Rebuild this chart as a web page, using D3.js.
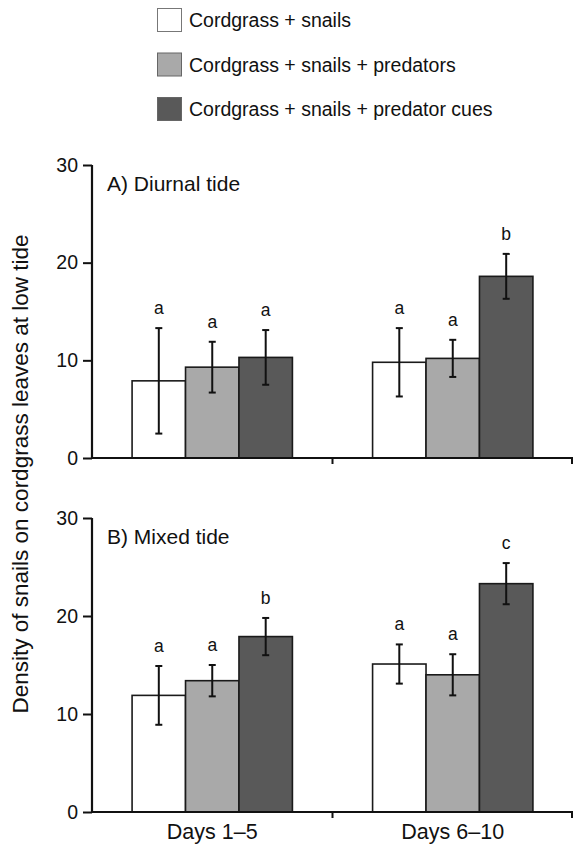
<!DOCTYPE html>
<html>
<head>
<meta charset="utf-8">
<script src="https://cdn.jsdelivr.net/npm/d3@7"></script>
<style>
  body { margin: 0; background: #fff; }
  svg text { font-family: "Liberation Sans", Arial, Helvetica, sans-serif; fill: #111; }
</style>
</head>
<body>
<svg id="svg"></svg>
<script>
// data
var groups = ["Days 1\u20135", "Days 6\u201310"];
var treatments = ["Cordgrass + snails", "Cordgrass + snails + predators", "Cordgrass + snails + predator cues"];
var yTicks = [0, 10, 20, 30];

var diurnalMeans   = [[7.9, 9.3, 10.3], [9.8, 10.2, 18.6]];
var diurnalErr     = [[5.4, 2.6, 2.8], [3.5, 1.9, 2.3]];
var diurnalLetters = [["a", "a", "a"], ["a", "a", "b"]];

var mixedMeans   = [[11.9, 13.4, 17.9], [15.1, 14.0, 23.3]];
var mixedErr     = [[3.0, 1.6, 1.9], [2.0, 2.1, 2.1]];
var mixedLetters = [["a", "a", "b"], ["a", "a", "c"]];

var panels = [
    {title: "A) Diurnal tide", means: diurnalMeans, err: diurnalErr, letters: diurnalLetters, top: 165, bottom: 458},
    {title: "B) Mixed tide",   means: mixedMeans,   err: mixedErr,   letters: mixedLetters,   top: 518, bottom: 812}
];

var width = 573, height = 849;
var svg = d3.select("#svg").attr("width", width).attr("height", height);

var fillScale = d3.scaleOrdinal().domain(treatments).range(["#ffffff", "#a9a9a9", "#595959"]);

var x0 = d3.scaleBand().domain(groups).range([92, 573]).paddingInner(0).paddingOuter(0);
var x1 = d3.scaleBand().domain(treatments).range([0, x0.bandwidth()]).paddingInner(0).paddingOuter(0.75);

//////////////////////////////////////////////////////////////////////////////
// legend
var legend = svg.append("g");
treatments.forEach(function(t, i) {
    var ly = 8 + i * 44.5;
    legend.append("rect")
        .attr("x", 157.5).attr("y", ly + 0.5)
        .attr("width", 24).attr("height", 23)
        .attr("fill", fillScale(t))
        .attr("stroke", i === 0 ? "#777" : "#666")
        .attr("stroke-width", 1);
    legend.append("text")
        .attr("x", 189).attr("y", ly + 19)
        .attr("font-size", 19.5)
        .text(t);
});

//////////////////////////////////////////////////////////////////////////////
function drawPanel(p)
{
    var y = d3.scaleLinear().domain([0, 30]).range([p.bottom, p.top]);
    var g = svg.append("g");

    // bars
    for (var gi = 0; gi < groups.length; ++gi) {
        for (var ti = 0; ti < treatments.length; ++ti) {
            var bx = x0(groups[gi]) + x1(treatments[ti]);
            var v = p.means[gi][ti];
            g.append("rect")
                .attr("x", bx).attr("y", y(v))
                .attr("width", x1.bandwidth()).attr("height", y(0) - y(v))
                .attr("fill", fillScale(treatments[ti]))
                .attr("stroke", "#1a1a1a")
                .attr("stroke-width", 1.6);
        }
    }

    // error bars and letters
    for (gi = 0; gi < groups.length; ++gi) {
        for (ti = 0; ti < treatments.length; ++ti) {
            var cx = x0(groups[gi]) + x1(treatments[ti]) + x1.bandwidth() / 2;
            var v = p.means[gi][ti], e = p.err[gi][ti];
            var eb = g.append("g").attr("stroke", "#111").attr("stroke-width", 2);
            eb.append("line").attr("x1", cx).attr("x2", cx).attr("y1", y(v - e)).attr("y2", y(v + e));
            eb.append("line").attr("x1", cx - 3.5).attr("x2", cx + 3.5).attr("y1", y(v + e)).attr("y2", y(v + e));
            eb.append("line").attr("x1", cx - 3.5).attr("x2", cx + 3.5).attr("y1", y(v - e)).attr("y2", y(v - e));
            g.append("text")
                .attr("x", cx).attr("y", y(v + e) - 14)
                .attr("text-anchor", "middle")
                .attr("font-size", 17.5)
                .text(p.letters[gi][ti]);
        }
    }

    // y axis
    var yAxis = d3.axisLeft(y).tickValues(yTicks).tickSize(9).tickPadding(5);
    var ya = g.append("g").attr("transform", "translate(92,0)").call(yAxis);
    ya.select(".domain").attr("stroke", "#111").attr("stroke-width", 2.2).attr("d", "M0," + p.top + "V" + p.bottom);
    ya.selectAll(".tick line").attr("stroke", "#111").attr("stroke-width", 2);
    ya.selectAll(".tick text").attr("font-size", 19.5).attr("font-family", "Liberation Sans, Arial, sans-serif").attr("fill", "#111");

    // x axis
    var xa = g.append("g").attr("transform", "translate(0," + p.bottom + ")");
    xa.append("line").attr("x1", 92).attr("x2", 573).attr("y1", 0).attr("y2", 0)
        .attr("stroke", "#111").attr("stroke-width", 2.2);
    groups.forEach(function(gr) {
        var tx = Math.min(x0(gr) + x0.bandwidth(), 572);
        xa.append("line").attr("x1", tx).attr("x2", tx).attr("y1", 0).attr("y2", 6)
            .attr("stroke", "#111").attr("stroke-width", 2);
    });

    // panel title
    g.append("text")
        .attr("x", 107).attr("y", p.top + 26)
        .attr("font-size", 21)
        .text(p.title);

    return y;
}

panels.forEach(drawPanel);

// category labels under bottom panel
groups.forEach(function(gr) {
    svg.append("text")
        .attr("x", x0(gr) + x0.bandwidth() / 2)
        .attr("y", 839)
        .attr("text-anchor", "middle")
        .attr("font-size", 21.5)
        .text(gr);
});

// y axis title
svg.append("text")
    .attr("transform", "translate(28,474) rotate(-90)")
    .attr("text-anchor", "middle")
    .attr("font-size", 22.5)
    .text("Density of snails on cordgrass leaves at low tide");
</script>
</body>
</html>
